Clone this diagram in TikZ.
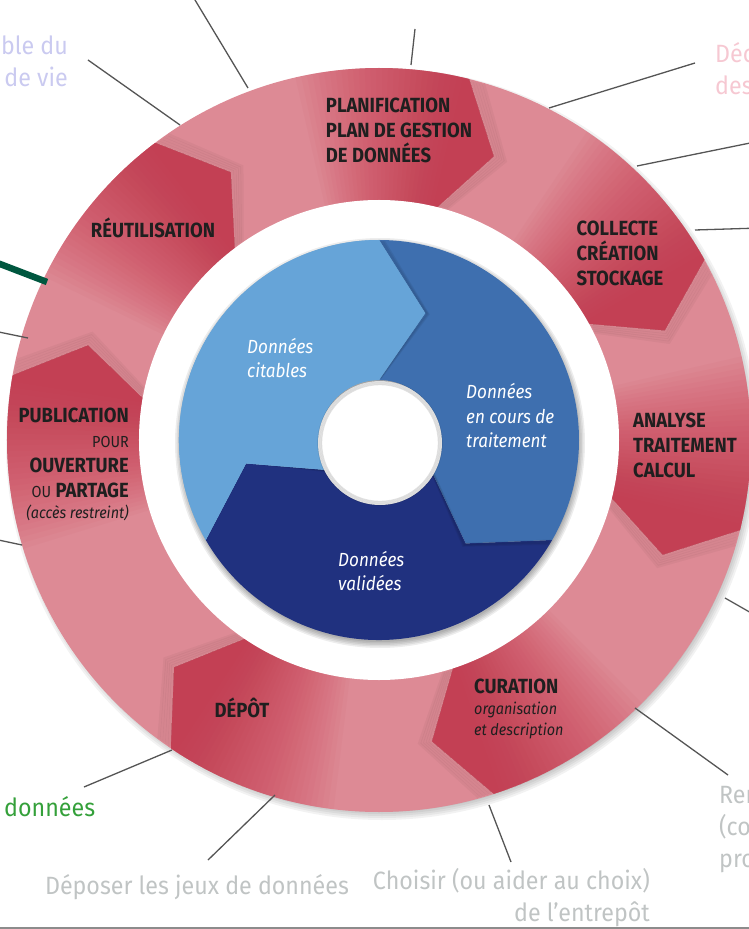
\documentclass[tikz,border=0pt]{standalone}
\usepackage{fontspec}
\setmainfont{Fira Sans}
\newfontfamily\labfont[FakeStretch=0.9]{Fira Sans}
\newfontfamily\notefont[FakeStretch=0.93]{Fira Sans}

\definecolor{ringpink}{HTML}{DD8A95}
\definecolor{ringred}{HTML}{C32B42}
\definecolor{bluelight}{HTML}{66A4D8}
\definecolor{bluemid}{HTML}{3E6FAF}
\definecolor{bluedark}{HTML}{20317F}
\definecolor{leadgray}{HTML}{555555}
\definecolor{leadgreen}{HTML}{00573F}
\definecolor{notegray}{HTML}{C0C4C4}
\definecolor{notelav}{HTML}{CACAF0}
\definecolor{notepink}{HTML}{F6C8D2}
\definecolor{notegreen}{HTML}{34A03A}

\tikzset{
  steplabel/.style={font=\labfont\bfseries\fontsize{20.5}{25}\selectfont, text=black!88, inner sep=0pt},
  datalabel/.style={font=\labfont\itshape\fontsize{19}{24.5}\selectfont, text=white, inner sep=0pt, align=left},
  note/.style={font=\notefont\fontsize{25}{32}\selectfont, inner sep=0pt},
  lead/.style={leadgray, line width=1.3pt},
}
\newcommand{\stepsub}{\mdseries\itshape\fontsize{16}{20}\selectfont}
\newcommand{\stepthin}{\mdseries\fontsize{16}{20}\selectfont}

\begin{document}
\begin{tikzpicture}[x=1pt,y=1pt]
  \useasboundingbox (-379,-489) rectangle (370,440);
  \clip (-379,-489) rectangle (370,440);

  % outer ring and its shadow
  \foreach \s in {0,...,5}
    \fill[black, opacity=0.05] (3,-4) circle [radius=366+\s*2];
  \fill[ringpink] (0,0) circle [radius=372];

  % darker heads of the seven steps
  \foreach \h in {127,76,29,-14,-72,-124,-190}{
    \foreach \r in {0.4,0.9,...,2.4}
      \draw[black, opacity=0.035, line width=3pt, rotate=-\r] (\h:371) -- ({\h-8}:306) -- (\h:241);
    \foreach \k in {1,...,30}
      \fill[ringred, opacity=0.038] ({\h+0.9*\k}:372) arc [start angle=\h+0.9*\k, end angle=\h, radius=372]
        -- ({\h-8}:306) -- (\h:240) arc [start angle=\h, end angle=\h+0.9*\k, radius=240] -- cycle;
  }

  % white gap and inner blue ring
  \fill[white] (0,0) circle [radius=240];
  \foreach \s in {0,...,4}
    \fill[black, opacity=0.07] (1,-3) circle [radius=199+\s*1.5];
  \foreach \t/\h/\c in {-30/-150/bluedark, 90/-30/bluemid, 210/90/bluelight}{
    \fill[\c] (\t:200) arc [start angle=\t, end angle=\h, radius=200]
      -- ({\h-20}:135) -- (\h:60) arc [start angle=\h, end angle=\t, radius=60] -- ({\t-20}:135) -- cycle;
    \foreach \r in {0.4,0.9,1.4}
      \draw[black, opacity=0.06, line width=2.5pt, rotate=-\r] (\h:199) -- ({\h-20}:135) -- (\h:62);
  }
  \fill[bluelight] (210:200) arc [start angle=210, end angle=90, radius=200]
    -- (70:135) -- (90:60) arc [start angle=90, end angle=210, radius=60] -- (190:135) -- cycle;

  % centre hole
  \fill[white] (1,-3) circle [radius=62];
  \foreach \s in {0,...,3}
    \draw[black, opacity=0.12, line width=1.2pt] (1,-3) circle [radius=62-\s*1.2];

  % step labels
  \node[steplabel, align=left] (plan) at (20,310) {PLANIFICATION\\PLAN DE GESTION\\DE DONNÉES};
  \node[steplabel] (reuse) at (-226,212) {RÉUTILISATION};
  \node[steplabel, align=left] (collect) at (241,187) {COLLECTE\\CRÉATION\\STOCKAGE};
  \node[steplabel, align=left] (analyse) at (306,-5) {ANALYSE\\TRAITEMENT\\CALCUL};
  \node[steplabel, align=left, anchor=west] (curation) at (95,-269)
    {CURATION\\[-4pt]{\stepsub organisation}\\[-4pt]{\stepsub et description}};
  \node[steplabel] (depot) at (-137,-268) {DÉPÔT};
  \node[steplabel, align=right, anchor=east] (publi) at (-250,-24)
    {PUBLICATION\\{\stepthin POUR}\\OUVERTURE\\{\stepthin OU} PARTAGE\\[-4pt]{\stepsub (accès restreint)}};

  % data labels
  \node[datalabel, anchor=west] (cite) at (-132,82) {Données\\citables};
  \node[datalabel, anchor=west] (work) at (87,24) {Données\\en cours de\\traitement};
  \node[datalabel, anchor=west] (valid) at (-41,-131) {Données\\validées};

  % notes round the ring
  \node[note, notelav, anchor=east, align=right] (cycle) at (-311,379) {ble du\\de vie};
  \node[note, notepink, anchor=west, align=left] (descr) at (336,371) {Déc\\des};
  \node[note, notegreen, anchor=west] (datanote) at (-375,-367) {données};
  \node[note, notegray] (deposer) at (-182,-447) {Déposer les jeux de données};
  \node[note, notegray, anchor=east, align=right] (choisir) at (271,-458) {Choisir (ou aider au choix)\\de l’entrepôt};
  \node[note, notegray, anchor=west, align=left] (rendre) at (340,-390) {Ren\\(co\\pro};

  % leader lines
  \coordinate (r1) at (-131,352);  \coordinate (e1) at (-190,450);
  \coordinate (r2) at (-199,315);  \coordinate (e2) at (-291,380);
  \coordinate (r3) at (32,375);    \coordinate (e3) at (36,411);
  \coordinate (r4) at (170,332);   \coordinate (e4) at (316,377);
  \coordinate (r5) at (258,274);   \coordinate (e5) at (381,299);
  \coordinate (r6) at (316,210);   \coordinate (e6) at (381,212);
  \coordinate (r7) at (-332,158);  \coordinate (e7) at (-392,181);
  \coordinate (r8) at (-351,102);  \coordinate (e8) at (-390,110);
  \coordinate (r9) at (-357,-105); \coordinate (e9) at (-390,-98);
  \coordinate (r10) at (-207,-310); \coordinate (e10) at (-295,-347);
  \coordinate (r11) at (-104,-355); \coordinate (e11) at (-171,-420);
  \coordinate (r12) at (110,-365);  \coordinate (e12) at (132,-422);
  \coordinate (r13) at (256,-268);  \coordinate (e13) at (349,-335);
  \coordinate (r14) at (346,-158);  \coordinate (e14) at (381,-178);

  \foreach \n in {1,2,3,4,5,6,8,9,10,11,12,13,14}
    \draw[lead] (r\n) -- (e\n);
  \draw[leadgreen, line width=6.5pt] (r7) -- (e7);

  % bottom rule
  \draw[black!45, line width=1.5pt] (-379,-488) -- (370,-488);
\end{tikzpicture}
\end{document}
